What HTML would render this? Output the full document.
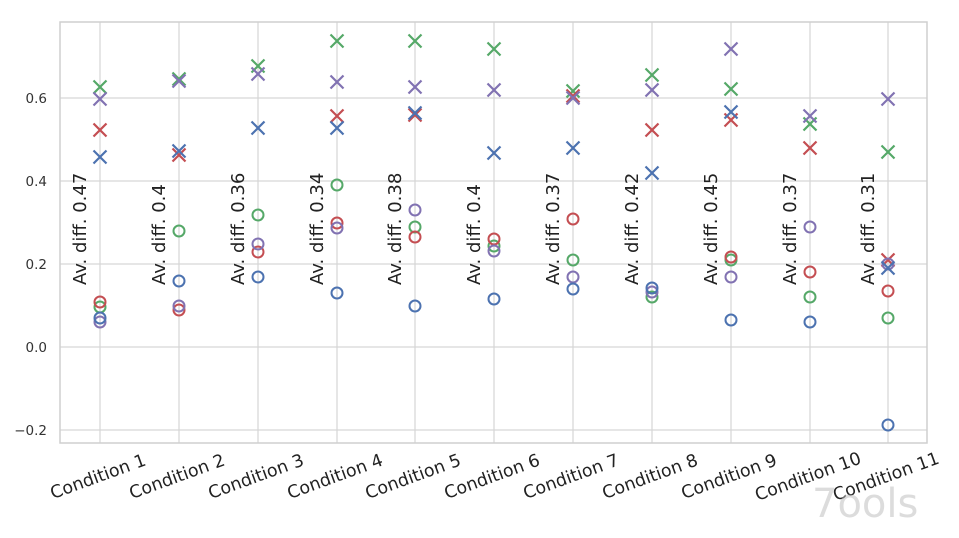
<!DOCTYPE html>
<html><head><meta charset="utf-8"><style>body{margin:0;background:#fff}</style></head><body>
<svg width="959" height="533" xmlns="http://www.w3.org/2000/svg" xmlns:xlink="http://www.w3.org/1999/xlink" font-family="DejaVu Sans, Liberation Sans, sans-serif">
<rect width="959" height="533" fill="#fff"/>
<g stroke="#d6d6d6" stroke-width="1.2">
<line x1="60" y1="430" x2="927" y2="430"/><line x1="60" y1="347" x2="927" y2="347"/><line x1="60" y1="264" x2="927" y2="264"/><line x1="60" y1="181" x2="927" y2="181"/><line x1="60" y1="98" x2="927" y2="98"/>
<line x1="100" y1="22" x2="100" y2="443"/><line x1="179" y1="22" x2="179" y2="443"/><line x1="258" y1="22" x2="258" y2="443"/><line x1="337" y1="22" x2="337" y2="443"/><line x1="415" y1="22" x2="415" y2="443"/><line x1="494" y1="22" x2="494" y2="443"/><line x1="573" y1="22" x2="573" y2="443"/><line x1="652" y1="22" x2="652" y2="443"/><line x1="731" y1="22" x2="731" y2="443"/><line x1="810" y1="22" x2="810" y2="443"/><line x1="888" y1="22" x2="888" y2="443"/>
</g>
<rect x="60" y="22" width="867" height="421" fill="none" stroke="#cfcfcf" stroke-width="1.5"/>
<g font-size="13.5" fill="#333" text-anchor="end">
<text x="47" y="435">−0.2</text><text x="47" y="352">0.0</text><text x="47" y="269">0.2</text><text x="47" y="186">0.4</text><text x="47" y="103">0.6</text>
</g>
<g font-size="17.5" fill="#222" text-anchor="middle">
<text transform="translate(100,482) rotate(-20)">Condition 1</text>
<text transform="translate(179,482) rotate(-20)">Condition 2</text>
<text transform="translate(258,482) rotate(-20)">Condition 3</text>
<text transform="translate(337,482) rotate(-20)">Condition 4</text>
<text transform="translate(415,482) rotate(-20)">Condition 5</text>
<text transform="translate(494,482) rotate(-20)">Condition 6</text>
<text transform="translate(573,482) rotate(-20)">Condition 7</text>
<text transform="translate(652,482) rotate(-20)">Condition 8</text>
<text transform="translate(731,482) rotate(-20)">Condition 9</text>
<text transform="translate(810,482) rotate(-20)">Condition 10</text>
<text transform="translate(888,482) rotate(-20)">Condition 11</text>
</g>
<g font-size="18" fill="#222">
<text transform="translate(86,285) rotate(-90)">Av. diff. 0.47</text>
<text transform="translate(165,285) rotate(-90)">Av. diff. 0.4</text>
<text transform="translate(244,285) rotate(-90)">Av. diff. 0.36</text>
<text transform="translate(323,285) rotate(-90)">Av. diff. 0.34</text>
<text transform="translate(401,285) rotate(-90)">Av. diff. 0.38</text>
<text transform="translate(480,285) rotate(-90)">Av. diff. 0.4</text>
<text transform="translate(559,285) rotate(-90)">Av. diff. 0.37</text>
<text transform="translate(638,285) rotate(-90)">Av. diff. 0.42</text>
<text transform="translate(717,285) rotate(-90)">Av. diff. 0.45</text>
<text transform="translate(796,285) rotate(-90)">Av. diff. 0.37</text>
<text transform="translate(874,285) rotate(-90)">Av. diff. 0.31</text>
</g>
<defs>
<path id="x" d="M-6.5,-6.5L6.5,6.5M-6.5,6.5L6.5,-6.5" stroke-width="2.2" fill="none"/>
<circle id="o" r="5.5" stroke-width="2" fill="none"/>
</defs>
<g stroke="#55a868">
<use xlink:href="#x" x="100" y="87"/><use xlink:href="#o" x="100" y="307"/>
<use xlink:href="#x" x="179" y="79"/><use xlink:href="#o" x="179" y="231"/>
<use xlink:href="#x" x="258" y="66"/><use xlink:href="#o" x="258" y="215"/>
<use xlink:href="#x" x="337" y="41"/><use xlink:href="#o" x="337" y="185"/>
<use xlink:href="#x" x="415" y="41"/><use xlink:href="#o" x="415" y="227"/>
<use xlink:href="#x" x="494" y="49"/><use xlink:href="#o" x="494" y="246"/>
<use xlink:href="#x" x="573" y="91"/><use xlink:href="#o" x="573" y="260"/>
<use xlink:href="#x" x="652" y="75"/><use xlink:href="#o" x="652" y="297"/>
<use xlink:href="#x" x="731" y="89"/><use xlink:href="#o" x="731" y="260"/>
<use xlink:href="#x" x="810" y="124"/><use xlink:href="#o" x="810" y="297"/>
<use xlink:href="#x" x="888" y="152"/><use xlink:href="#o" x="888" y="318"/>
</g>
<g stroke="#c44e52">
<use xlink:href="#x" x="100" y="130"/><use xlink:href="#o" x="100" y="302"/>
<use xlink:href="#x" x="179" y="155"/><use xlink:href="#o" x="179" y="310"/>
<use xlink:href="#o" x="258" y="252"/>
<use xlink:href="#x" x="337" y="116"/><use xlink:href="#o" x="337" y="223"/>
<use xlink:href="#x" x="415" y="115"/><use xlink:href="#o" x="415" y="237"/>
<use xlink:href="#o" x="494" y="239"/>
<use xlink:href="#x" x="573" y="96"/><use xlink:href="#o" x="573" y="219"/>
<use xlink:href="#x" x="652" y="130"/>
<use xlink:href="#x" x="731" y="120"/><use xlink:href="#o" x="731" y="257"/>
<use xlink:href="#x" x="810" y="148"/><use xlink:href="#o" x="810" y="272"/>
<use xlink:href="#x" x="888" y="260"/><use xlink:href="#o" x="888" y="291"/>
</g>
<g stroke="#8172b2">
<use xlink:href="#x" x="100" y="99"/><use xlink:href="#o" x="100" y="322"/>
<use xlink:href="#x" x="179" y="81"/><use xlink:href="#o" x="179" y="306"/>
<use xlink:href="#x" x="258" y="74"/><use xlink:href="#o" x="258" y="244"/>
<use xlink:href="#x" x="337" y="82"/><use xlink:href="#o" x="337" y="228"/>
<use xlink:href="#x" x="415" y="87"/><use xlink:href="#o" x="415" y="210"/>
<use xlink:href="#x" x="494" y="90"/><use xlink:href="#o" x="494" y="251"/>
<use xlink:href="#x" x="573" y="98"/><use xlink:href="#o" x="573" y="277"/>
<use xlink:href="#x" x="652" y="90"/><use xlink:href="#o" x="652" y="292"/>
<use xlink:href="#x" x="731" y="49"/><use xlink:href="#o" x="731" y="277"/>
<use xlink:href="#x" x="810" y="116"/><use xlink:href="#o" x="810" y="227"/>
<use xlink:href="#x" x="888" y="99"/><use xlink:href="#o" x="888" y="264"/>
</g>
<g stroke="#4c72b0">
<use xlink:href="#x" x="100" y="157"/><use xlink:href="#o" x="100" y="318"/>
<use xlink:href="#x" x="179" y="151"/><use xlink:href="#o" x="179" y="281"/>
<use xlink:href="#x" x="258" y="128"/><use xlink:href="#o" x="258" y="277"/>
<use xlink:href="#x" x="337" y="128"/><use xlink:href="#o" x="337" y="293"/>
<use xlink:href="#x" x="415" y="113"/><use xlink:href="#o" x="415" y="306"/>
<use xlink:href="#x" x="494" y="153"/><use xlink:href="#o" x="494" y="299"/>
<use xlink:href="#x" x="573" y="148"/><use xlink:href="#o" x="573" y="289"/>
<use xlink:href="#x" x="652" y="173"/><use xlink:href="#o" x="652" y="288"/>
<use xlink:href="#x" x="731" y="112"/><use xlink:href="#o" x="731" y="320"/>
<use xlink:href="#o" x="810" y="322"/>
<use xlink:href="#x" x="888" y="268"/><use xlink:href="#o" x="888" y="425"/>
</g>
<text x="812" y="517" font-size="40" fill="#bbb" opacity="0.5">7ools</text>
</svg>
</body></html>
